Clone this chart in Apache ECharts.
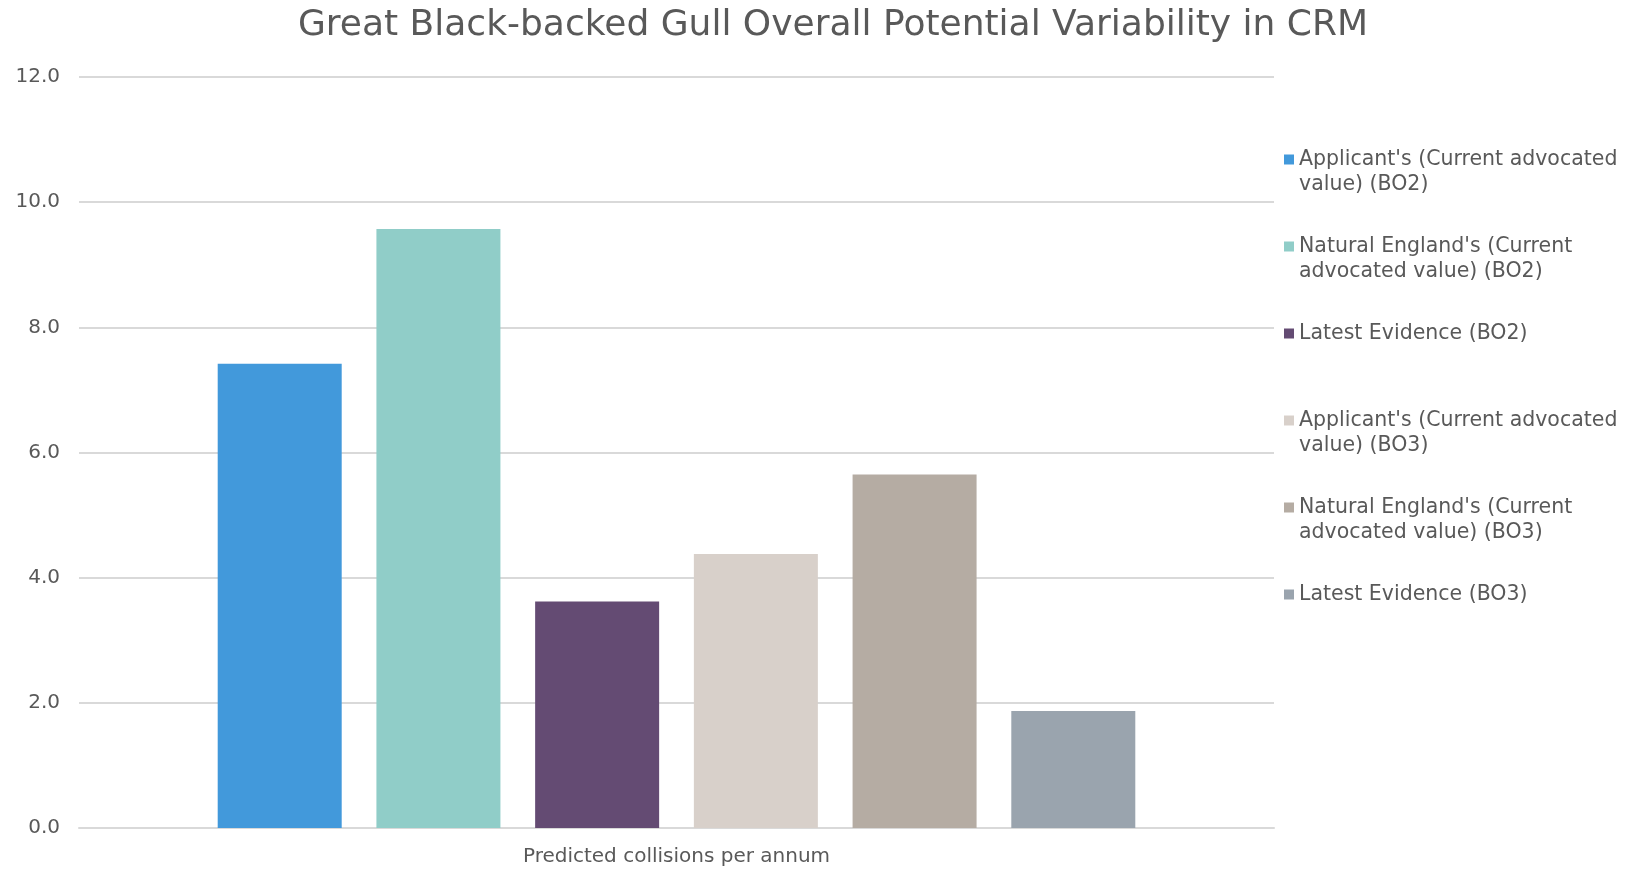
<!DOCTYPE html>
<html>
<head>
<meta charset="utf-8">
<script src="https://cdn.jsdelivr.net/npm/echarts@6/dist/echarts.min.js"></script>
<style>html,body{margin:0;padding:0;background:#fff}#c{width:1628px;height:871px}</style>
</head>
<body>
<div id="c"></div>
<script>
const titleText = 'Great Black-backed Gull Overall Potential Variability in CRM';
const categories = ['Predicted collisions per annum'];
const seriesNames = [
  "Applicant's (Current advocated value) (BO2)",
  "Natural England's (Current advocated value) (BO2)",
  "Latest Evidence (BO2)",
  "Applicant's (Current advocated value) (BO3)",
  "Natural England's (Current advocated value) (BO3)",
  "Latest Evidence (BO3)"
];
const legendLines = [
  ["Applicant's (Current advocated", "value) (BO2)"],
  ["Natural England's (Current", "advocated value) (BO2)"],
  ["Latest Evidence (BO2)"],
  ["Applicant's (Current advocated", "value) (BO3)"],
  ["Natural England's (Current", "advocated value) (BO3)"],
  ["Latest Evidence (BO3)"]
];
const values = [7.42, 9.57, 3.62, 4.38, 5.65, 1.87];
const colors = ['#4299DB', '#90CDC8', '#644B73', '#D8D0CA', '#B5ACA3', '#9AA4AE'];
const yTicks = {min: 0, max: 12, interval: 2};

const FONT = 'DejaVu Sans';
const chart = echarts.init(document.getElementById('c'), null, {renderer: 'canvas'});
const legendMap = {};
seriesNames.forEach((n, i) => {
  const l = legendLines[i];
  legendMap[n] = '\u00a0\n' + l[0] + '\n' + (l[1] || '\u00a0');
});
chart.setOption({
  animation: false,
  backgroundColor: '#ffffff',
  title: {
    text: titleText,
    left: 828, top: 3, textAlign: 'center',
    textStyle: {fontFamily: FONT, fontSize: 36, fontWeight: 'normal', color: '#595959'}
  },
  legend: {
    orient: 'vertical',
    left: 1279, top: 117,
    itemWidth: 10, itemHeight: 10, itemGap: 12,
    icon: 'rect',
    selectedMode: false,
    formatter: n => legendMap[n],
    textStyle: {fontFamily: FONT, fontSize: 20.5, color: '#595959', lineHeight: 25}
  },
  grid: {left: 79, right: 354, top: 77, bottom: 43, containLabel: false},
  xAxis: {
    type: 'category',
    data: categories,
    axisLine: {show: true, lineStyle: {color: '#d9d9d9', width: 2}},
    axisTick: {show: false},
    axisLabel: {fontFamily: FONT, fontSize: 20, color: '#595959', margin: 19}
  },
  yAxis: {
    type: 'value',
    min: yTicks.min, max: yTicks.max, interval: yTicks.interval,
    axisLine: {show: false},
    axisTick: {show: false},
    splitLine: {lineStyle: {color: '#d9d9d9', width: 2}},
    axisLabel: {fontFamily: FONT, fontSize: 20, color: '#595959', margin: 19,
      formatter: v => v.toFixed(1)}
  },
  series: seriesNames.map((n, i) => ({
    name: n,
    type: 'bar',
    data: [values[i]],
    barWidth: 124,
    barGap: '28%',
    itemStyle: {color: colors[i]}
  }))
});
</script>
</body>
</html>
